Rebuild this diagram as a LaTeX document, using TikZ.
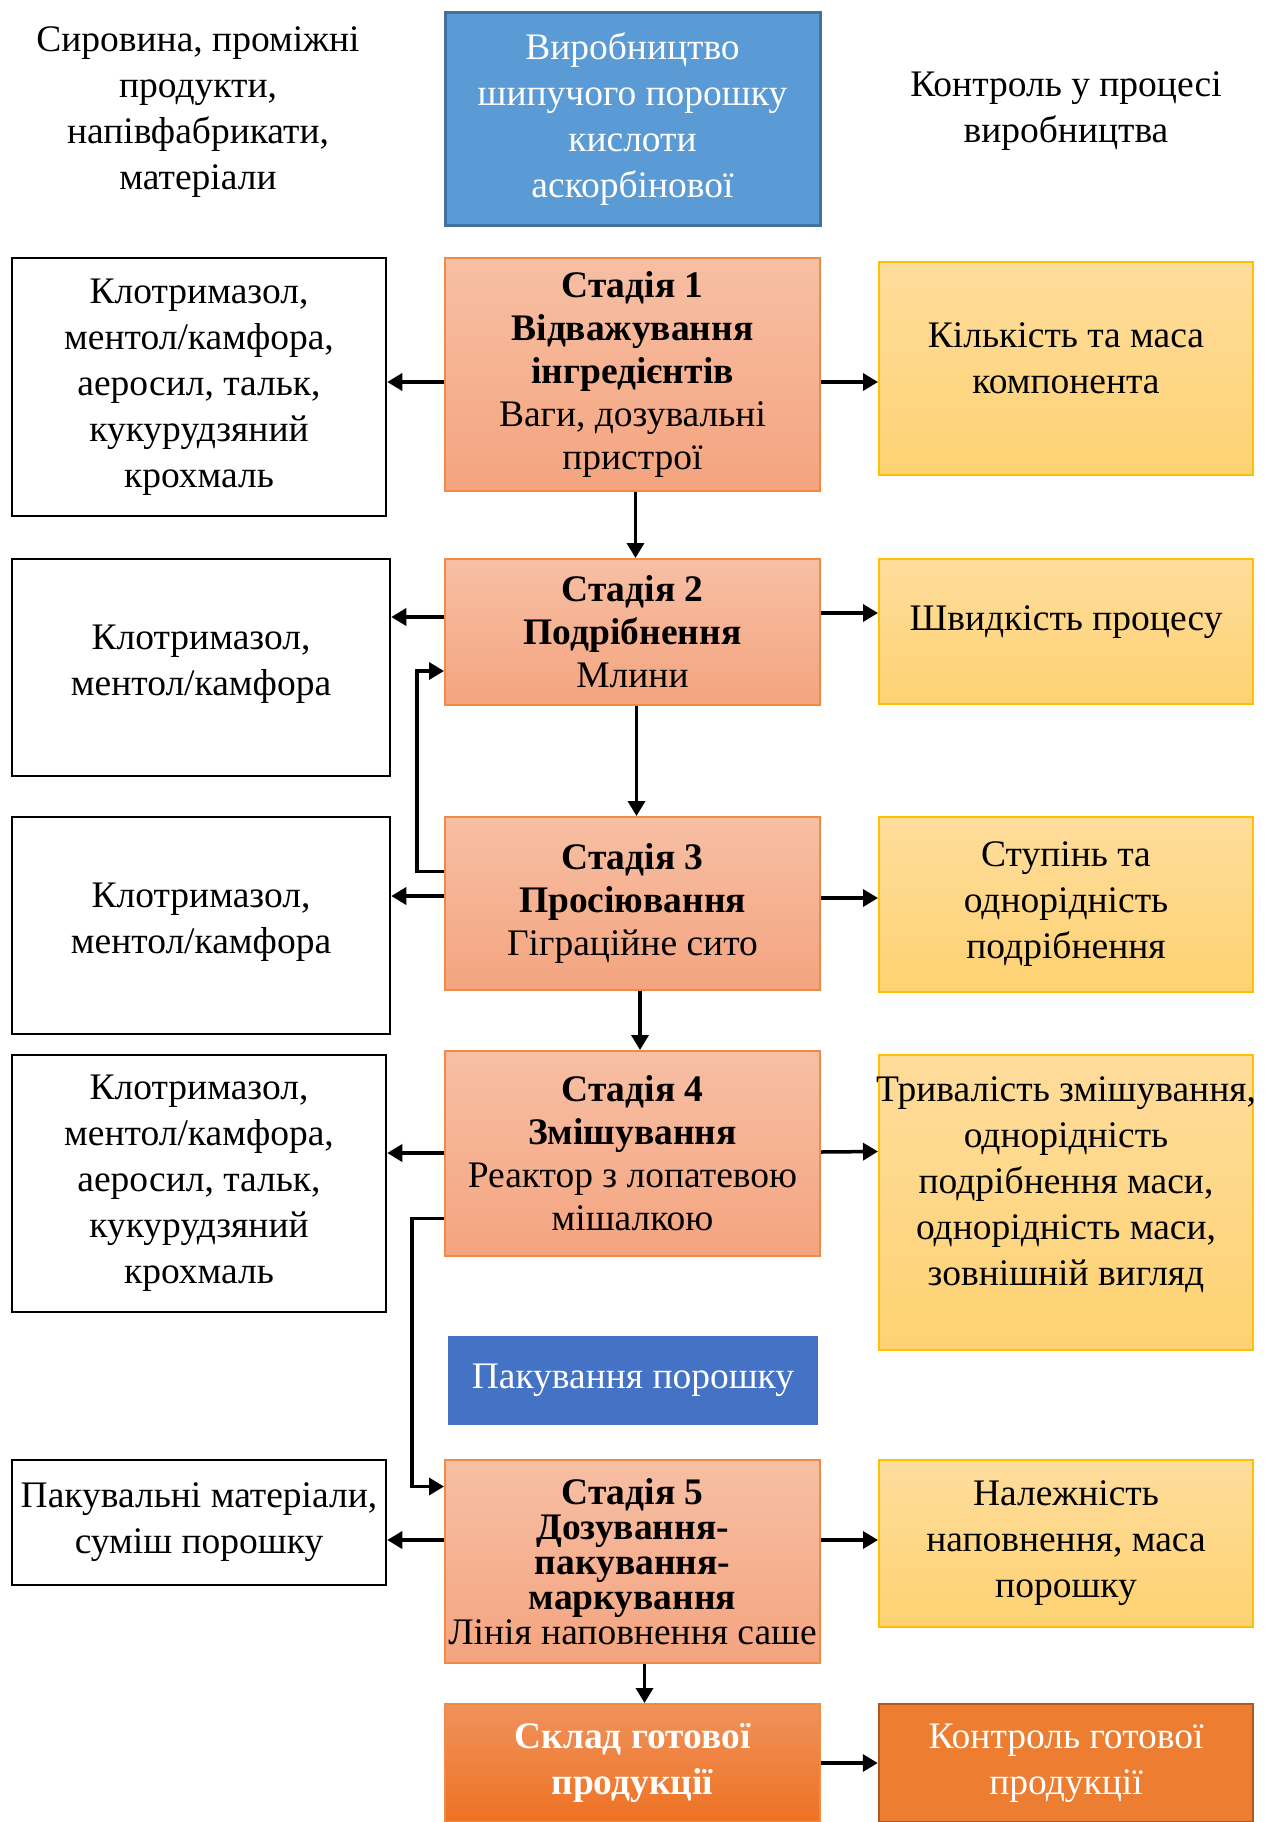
\documentclass[tikz,border=0pt]{standalone}
\usepackage{fontspec}
\setmainfont{Liberation Serif}
\usetikzlibrary{arrows.meta}

\definecolor{titleblue}{HTML}{5B9BD5}
\definecolor{titleedge}{HTML}{41719C}
\definecolor{stagetop}{HTML}{F7BFA4}
\definecolor{stagebot}{HTML}{F4A47F}
\definecolor{stageedge}{HTML}{F08A44}
\definecolor{ctrltop}{HTML}{FEDC9C}
\definecolor{ctrlbot}{HTML}{FED272}
\definecolor{ctrledge}{HTML}{FFC000}
\definecolor{packblue}{HTML}{4472C4}
\definecolor{storetop}{HTML}{F0925C}
\definecolor{storebot}{HTML}{EE7222}
\definecolor{finalfill}{HTML}{ED7D31}
\definecolor{finaledge}{HTML}{AE5A21}

\begin{document}
\begin{tikzpicture}[x=1pt, y=-1pt,
		txt/.style   = {font=\fontsize{37.5}{46}\selectfont, align=center, inner sep=0pt},
		inp/.style   = {txt, rectangle, draw=black, line width=2.5pt, fill=white, minimum width=374pt},
		stage/.style = {txt, rectangle, draw=stageedge, line width=2pt, top color=stagetop, bottom color=stagebot,
		                minimum width=375pt, font=\fontsize{37.5}{43}\selectfont},
		ctrl/.style  = {txt, rectangle, draw=ctrledge, line width=2pt, top color=ctrltop, bottom color=ctrlbot, minimum width=374pt},
		r/.style     = {-{Triangle[length=15pt, width=17pt]}, line width=3.5pt}
		]
		\useasboundingbox (0,0) rectangle (1273,1822);

		% header
		\node[txt]	(hdrL)	at	(198, 112)	{Сировина, проміжні\\продукти,\\напівфабрикати,\\матеріали};
		\node[txt, rectangle, draw=titleedge, line width=3pt, fill=titleblue, text=white,
		      minimum width=375pt, minimum height=212pt]
		        	(title)	at	(632.5, 119)	{Виробництво\\шипучого порошку\\кислоти\\аскорбінової};
		\node[txt]	(hdrR)	at	(1066, 111)	{Контроль у процесі\\виробництва};

		% stage 1
		\node[inp, minimum height=258pt]	(l1)	at	(199, 387)	{Клотримазол,\\ментол/камфора,\\аеросил, тальк,\\кукурудзяний\\крохмаль};
		\node[stage, minimum height=233pt]	(s1)	at	(632.5, 374.5)	{\textbf{Стадія 1}\\\textbf{Відважування}\\\textbf{інгредієнтів}\\Ваги, дозувальні\\пристрої};
		\node[ctrl, minimum height=213pt]	(c1)	at	(1066, 368.5)	{Кількість та маса\\компонента\\[-26pt]};
		\draw[r]	([yshift=-7.5pt]s1.west)	to	([yshift=5pt]l1.east);
		\draw[r]	([yshift=-7.5pt]s1.east)	to	([yshift=-13.5pt]c1.west);

		% stage 2
		\node[inp, minimum width=378pt, minimum height=217pt]	(l2)	at	(201, 667.5)	{Клотримазол,\\ментол/камфора\\[-32pt]};
		\node[stage, minimum height=146pt]	(s2)	at	(632.5, 632)	{\textbf{Стадія 2}\\\textbf{Подрібнення}\\Млини};
		\node[ctrl, minimum height=145pt]	(c2)	at	(1066, 631.5)	{Швидкість процесу\\[-20pt]};
		\draw[r]	([xshift=3pt]s1.south)	to	([xshift=3pt]s2.north);
		\draw[r]	([yshift=15pt]s2.west)	to	([yshift=50.5pt]l2.east);
		\draw[r]	([yshift=19pt]s2.east)	to	([yshift=18.5pt]c2.west);

		% stage 3
		\node[inp, minimum width=378pt, minimum height=217pt]	(l3)	at	(201, 925.5)	{Клотримазол,\\ментол/камфора\\[-32pt]};
		\node[stage, minimum height=173pt]	(s3)	at	(632.5, 903.5)	{\textbf{Стадія 3}\\\textbf{Просіювання}\\Гіграційне сито};
		\node[ctrl, minimum height=175pt]	(c3)	at	(1066, 904.5)	{Ступінь та\\однорідність\\подрібнення};
		\draw[r]	([xshift=4pt]s2.south)	to	([xshift=4pt]s3.north);
		\draw[r]	([yshift=7.5pt]s3.west)	to	([yshift=29.5pt]l3.east);
		\draw[r]	([yshift=5.5pt]s3.east)	to	([yshift=6.5pt]c3.west);
		\draw[r]	([yshift=32pt]s3.west)	-- ++(-27, 0)	|-	([yshift=-39pt]s2.west);

		% stage 4
		\node[inp, minimum height=257pt]	(l4)	at	(199, 1183.5)	{Клотримазол,\\ментол/камфора,\\аеросил, тальк,\\кукурудзяний\\крохмаль};
		\node[stage, minimum height=205pt]	(s4)	at	(632.5, 1153.5)	{\textbf{Стадія 4}\\\textbf{Змішування}\\Реактор з лопатевою\\мішалкою};
		\node[ctrl, minimum height=295pt]	(c4)	at	(1066, 1202.5)	{\makebox[370pt]{Тривалість змішування,}\\однорідність\\подрібнення маси,\\однорідність маси,\\зовнішній вигляд\\[-4pt]};
		\draw[r]	([xshift=7.5pt]s3.south)	to	([xshift=7.5pt]s4.north);
		\draw[r]	([yshift=0.5pt]s4.west)	to	([yshift=30.5pt]l4.east);
		\draw[r]	([yshift=1.5pt]s4.east)	to	([yshift=51pt]c4.west);

		% packing
		\node[txt, rectangle, fill=packblue, text=white, minimum width=370pt, minimum height=89pt]
		        	(pack)	at	(633, 1380.5)	{Пакування порошку};

		% stage 5
		\node[inp, minimum height=125pt]	(l5)	at	(199, 1522.5)	{Пакувальні матеріали,\\суміш порошку};
		\node[stage, minimum height=203pt, font=\fontsize{37.5}{35}\selectfont]
		        	(s5)	at	(632.5, 1561.5)	{\textbf{Стадія 5}\\\textbf{Дозування-}\\\textbf{пакування-}\\\textbf{маркування}\\Лінія наповнення саше};
		\node[ctrl, minimum height=167pt]	(c5)	at	(1066, 1543.5)	{Належність\\наповнення, маса\\порошку};
		\draw[r]	([yshift=-65pt]s4.west)	-- ++(-32, 0)	|-	([yshift=75pt]s5.west);
		\draw[r]	([yshift=21.5pt]s5.west)	to	([yshift=-17.5pt]l5.east);
		\draw[r]	([yshift=21.5pt]s5.east)	to	([yshift=3.5pt]c5.west);

		% finished product
		\node[txt, rectangle, draw=stageedge, line width=2pt, top color=storetop, bottom color=storebot, text=white,
		      minimum width=375pt, minimum height=118pt]
		        	(store)	at	(632.5, 1763)	{\textbf{Склад готової}\\\textbf{продукції}};
		\node[txt, rectangle, draw=finaledge, line width=2.5pt, fill=finalfill, text=white,
		      minimum width=374pt, minimum height=118pt]
		        	(fin)	at	(1066, 1763)	{Контроль готової\\продукції};
		\draw[r]	([xshift=12pt]s5.south)	to	([xshift=12pt]store.north);
		\draw[r]	(store.east)	to	(fin.west);
\end{tikzpicture}
\end{document}
